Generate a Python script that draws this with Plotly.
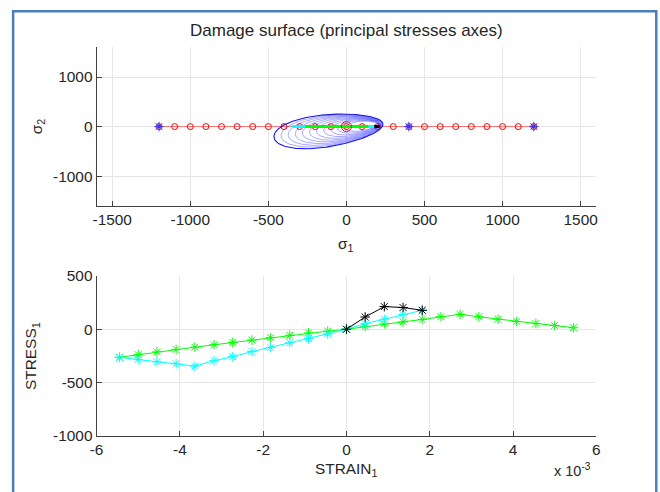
import numpy as np
import plotly.graph_objects as go

# ---------------- data ----------------
# bottom chart: strain (x 1e-3) and stress
strain_green = [-5.45, -5.00, -4.55, -4.09, -3.64, -3.18, -2.73, -2.27, -1.82, -1.36, -0.91, -0.45,
                0.00, 0.45, 0.91, 1.36, 1.82, 2.27, 2.73, 3.18, 3.64, 4.09, 4.55, 5.00, 5.45]
stress_green = [-264, -239, -213, -191, -169, -146, -124, -102, -80, -57, -35, -18,
                0, 25, 50, 69, 92, 118, 140, 117, 94, 73, 54, 35, 14]
strain_cyan = [-5.45, -5.00, -4.55, -4.09, -3.64, -3.18, -2.73, -2.27, -1.82, -1.36, -0.91, -0.45,
               0.00, 0.45, 0.91, 1.36, 1.82]
stress_cyan = [-264, -287, -306, -325, -347, -296, -258, -210, -172, -127, -86, -45,
               0, 52, 94, 138, 178]
strain_black = [0.00, 0.45, 0.91, 1.36, 1.82]
stress_black = [0, 115, 213, 204, 178]
strain_scale = 1e-3
strain_ticks = [-6, -4, -2, 0, 2, 4, 6]
stress_ticks = [-1000, -500, 0, 500]

# top chart: principal stresses path
sigma1_path = [-1200, -1100, -1000, -900, -800, -700, -600, -500, -400, -300, -200, -100, 0,
               100, 200, 300, 400, 500, 600, 700, 800, 900, 1000, 1100, 1200]
sigma2_path = [0] * len(sigma1_path)
sigma1_marks = [-1200, 400, 1200]
sigma2_marks = [0, 0, 0]
sigma_origin = [0]
sigma1_ticks = [-1500, -1000, -500, 0, 500, 1000, 1500]
sigma2_ticks = [-1000, 0, 1000]

# damage surface (nested egg-shaped contours) parameters, in stress units
surf_center = [-115, -81]
surf_axis_u = [349, 136]
surf_axis_v = [12.5, -322]
surf_egg = 0.15
surf_pole = [186, 51]
surf_scales = [1.0, 0.93, 0.86, 0.79, 0.72, 0.65, 0.58, 0.51, 0.44, 0.37, 0.30]

# ---------------- figure ----------------
# screen placement: the page body keeps an 8px margin and the captured page is slightly rescaled
OX, OY = 8, 8
SX, SY = 0.984, 0.963
BX, BY = -1.5, 1.1
W, H = 664, 502
fig = go.Figure()

AX = "#404040"
GRID = "#e6e6e6"
FONT = "Liberation Sans, Arial, sans-serif"
FS = 15.4

def px(X):
    return ((X - BX) / SX - OX) / W

def py(Y):
    return 1 - ((Y - BY) / SY - OY) / H

def lab(v):
    return ("-" if v < 0 else "") + str(abs(v))

# red loading path
fig.add_trace(go.Scatter(x=sigma1_path, y=sigma2_path, mode="lines+markers",
                         line=dict(color="rgba(255,0,0,0.5)", width=1),
                         marker=dict(symbol="circle-open", size=6, color="red", line=dict(width=1)),
                         xaxis="x", yaxis="y", showlegend=False))

# damage surfaces
t = np.linspace(0, 2 * np.pi, 300)
for i, s in enumerate(surf_scales):
    cx = surf_pole[0] + s * (surf_center[0] - surf_pole[0])
    cy = surf_pole[1] + s * (surf_center[1] - surf_pole[1])
    cu = np.cos(t)
    sv = (1 - surf_egg * np.cos(t)) * np.sin(t)
    ex = cx + s * (cu * surf_axis_u[0] + sv * surf_axis_v[0])
    ey = cy + s * (cu * surf_axis_u[1] + sv * surf_axis_v[1])
    col = "rgb(20,20,235)" if i == 0 else "rgba(40,40,255,0.5)"
    fig.add_trace(go.Scatter(x=ex, y=ey, mode="lines",
                             line=dict(color=col, width=1.1 if i == 0 else 0.8),
                             xaxis="x", yaxis="y", showlegend=False))

# stress ranges along sigma1 axis
for xs, col in [(stress_black, "black"), (stress_cyan, "cyan"), (stress_green, "#00ff00")]:
    fig.add_trace(go.Scatter(x=xs, y=[0] * len(xs), mode="lines",
                             line=dict(color=col, width=3),
                             xaxis="x", yaxis="y", showlegend=False))

fig.add_trace(go.Scatter(x=sigma_origin, y=[0], mode="markers",
                         marker=dict(symbol="circle-open", size=10, color="red", line=dict(width=1)),
                         xaxis="x", yaxis="y", showlegend=False))
fig.add_trace(go.Scatter(x=sigma1_marks, y=sigma2_marks, mode="markers",
                         marker=dict(symbol="circle", size=4, color="rgb(110,0,150)"),
                         xaxis="x", yaxis="y", showlegend=False))
fig.add_trace(go.Scatter(x=sigma1_marks, y=sigma2_marks, mode="markers",
                         marker=dict(symbol="asterisk-open", size=8, color="rgb(60,60,255)",
                                     line=dict(width=1, color="rgb(60,60,255)")),
                         xaxis="x", yaxis="y", showlegend=False))

# bottom: stress-strain
for xs, ys, col in [(strain_green, stress_green, "#00ff00"),
                    (strain_cyan, stress_cyan, "cyan"),
                    (strain_black, stress_black, "black")]:
    fig.add_trace(go.Scatter(x=[v * strain_scale for v in xs], y=ys, mode="lines+markers",
                             line=dict(color=col, width=1),
                             marker=dict(symbol="asterisk-open", size=8, color=col, line=dict(width=1, color=col)),
                             xaxis="x2", yaxis="y2", showlegend=False))

common = dict(showgrid=True, gridcolor=GRID, gridwidth=1, showline=True, linecolor=AX, linewidth=1,
              ticks="inside", ticklen=5, tickcolor=AX, zeroline=False, mirror=False,
              tickfont=dict(family=FONT, size=FS, color="#262626"), fixedrange=True)

fig.update_layout(
    width=W, height=H, margin=dict(l=0, r=0, t=0, b=0),
    paper_bgcolor="white", plot_bgcolor="white",
    font=dict(family=FONT, size=FS, color="#262626"),
    xaxis=dict(domain=[px(96), px(596)], range=[-1600, 1600], tickvals=sigma1_ticks,
               ticktext=[lab(v) for v in sigma1_ticks], anchor="y", **common),
    yaxis=dict(domain=[py(205), py(47)], range=[-1600, 1600], tickvals=sigma2_ticks,
               ticktext=[lab(v) for v in sigma2_ticks], anchor="x", **common),
    xaxis2=dict(domain=[px(96), px(596)], range=[-6 * strain_scale, 6 * strain_scale],
                tickvals=[v * strain_scale for v in strain_ticks], ticktext=[lab(v) for v in strain_ticks],
                anchor="y2", **common),
    yaxis2=dict(domain=[py(434), py(275)], range=[-1000, 500], tickvals=stress_ticks,
                ticktext=[lab(v) for v in stress_ticks], anchor="x2", **common),
)

def ann(text, x, y, size=FS, angle=0, xanchor="center"):
    fig.add_annotation(text=text, x=px(x), y=py(y), xref="paper", yref="paper",
                       showarrow=False, textangle=angle, xanchor=xanchor, yanchor="middle",
                       font=dict(family=FONT, size=size, color="#262626"))

ann("Damage surface (principal stresses axes)", 346, 30, size=17)
ann("σ<sub>1</sub>", 346, 244)
ann("σ<sub>2</sub>", 37, 126, angle=-90)
ann("STRAIN<sub>1</sub>", 346, 468)
ann("STRESS<sub>1</sub>", 31, 355, angle=-90)
ann("x 10<sup>-3</sup>", 572, 468, size=14.5)

# blue frame
fig.add_shape(type="rect", xref="paper", yref="paper", x0=px(12.5), x1=px(656), y0=-0.05, y1=py(11),
              line=dict(color="#4a7ebf", width=2.5), fillcolor="rgba(0,0,0,0)", layer="above")

fig.write_html("out.html")
